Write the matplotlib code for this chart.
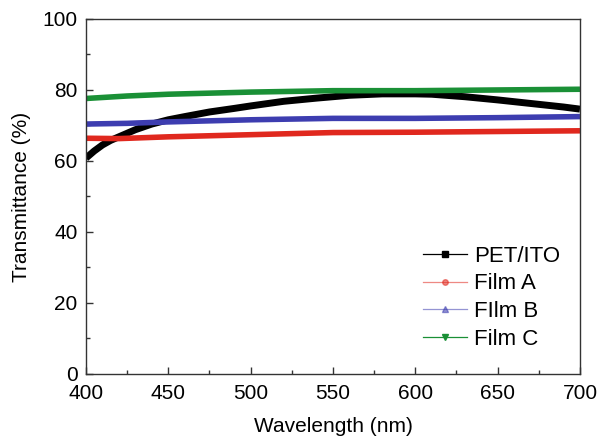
import matplotlib
matplotlib.use("Agg")
import matplotlib.pyplot as plt
from matplotlib.lines import Line2D

plt.rcParams['font.family'] = ['Liberation Sans', 'DejaVu Sans']

# Transmittance spectra (nm, %)
wl_pet = [400, 405, 410, 415, 420, 430, 440, 450, 460, 475, 490, 500, 520, 540, 550,
          560, 580, 600, 610, 630, 650, 670, 690, 700]
t_pet = [60.8, 62.8, 64.5, 65.8, 66.8, 68.8, 70.4, 71.6, 72.5, 73.8, 74.8, 75.5, 76.8,
         77.7, 78.1, 78.5, 78.9, 78.9, 78.8, 78.1, 77.2, 76.2, 75.2, 74.6]

wl_a = [400, 420, 450, 500, 550, 600, 650, 700]
t_a = [66.4, 66.3, 66.8, 67.4, 68.0, 68.1, 68.3, 68.5]

wl_b = [400, 425, 450, 500, 550, 600, 650, 700]
t_b = [70.4, 70.6, 71.0, 71.6, 72.0, 72.0, 72.2, 72.5]

wl_c = [400, 425, 450, 500, 550, 600, 650, 700]
t_c = [77.6, 78.3, 78.8, 79.4, 79.8, 79.8, 80.0, 80.2]

labels = ["PET/ITO", "Film A", "FIlm B", "Film C"]
colors = ["#000000", "#e0281e", "#3d3db0", "#1a9036"]
markers = ["s", "o", "^", "v"]

fig = plt.figure(figsize=(6.01, 4.41), dpi=100)
ax = fig.add_axes([0.143, 0.152, 0.822, 0.805])

series = [(wl_pet, t_pet), (wl_a, t_a), (wl_b, t_b), (wl_c, t_c)]
widths = [5.0, 4.0, 4.0, 4.0]
for (x, y), c, lw in zip(series, colors, widths):
    ax.plot(x, y, color=c, lw=lw, solid_capstyle='butt')

ax.set_xlim(400, 700)
ax.set_ylim(0, 100)
ax.set_xticks(range(400, 701, 50))
ax.set_xticks(range(400, 701, 25), minor=True)
ax.set_yticks(range(0, 101, 20))
ax.set_yticks(range(0, 101, 10), minor=True)

ax.tick_params(which='both', direction='in', top=False, right=False,
               labelsize=15, color='#333333')
ax.tick_params(axis='x', which='major', pad=7)
ax.tick_params(axis='y', which='major', pad=6)
ax.tick_params(which='major', length=5, width=1)
ax.tick_params(which='minor', length=3, width=1)
for s in ax.spines.values():
    s.set_color('#333333')
    s.set_linewidth(1.0)

ax.set_xlabel("Wavelength (nm)", fontsize=15, labelpad=10)
ax.set_ylabel("Transmittance (%)", fontsize=15, labelpad=8)

handles = []
for i, (c, m) in enumerate(zip(colors, markers)):
    line_alpha = 1.0 if i in (0, 3) else 0.55
    h = Line2D([], [], color=c, lw=0.9, alpha=line_alpha, marker=m, markersize=4,
               markerfacecolor=c, markeredgecolor=c)
    handles.append(h)
leg = ax.legend(handles, labels, loc='lower right', frameon=False, fontsize=16,
                handlelength=2.0, handletextpad=0.3, labelspacing=0.3,
                numpoints=1, bbox_to_anchor=(1.0, 0.012))

fig.savefig("out.png", dpi=100)
